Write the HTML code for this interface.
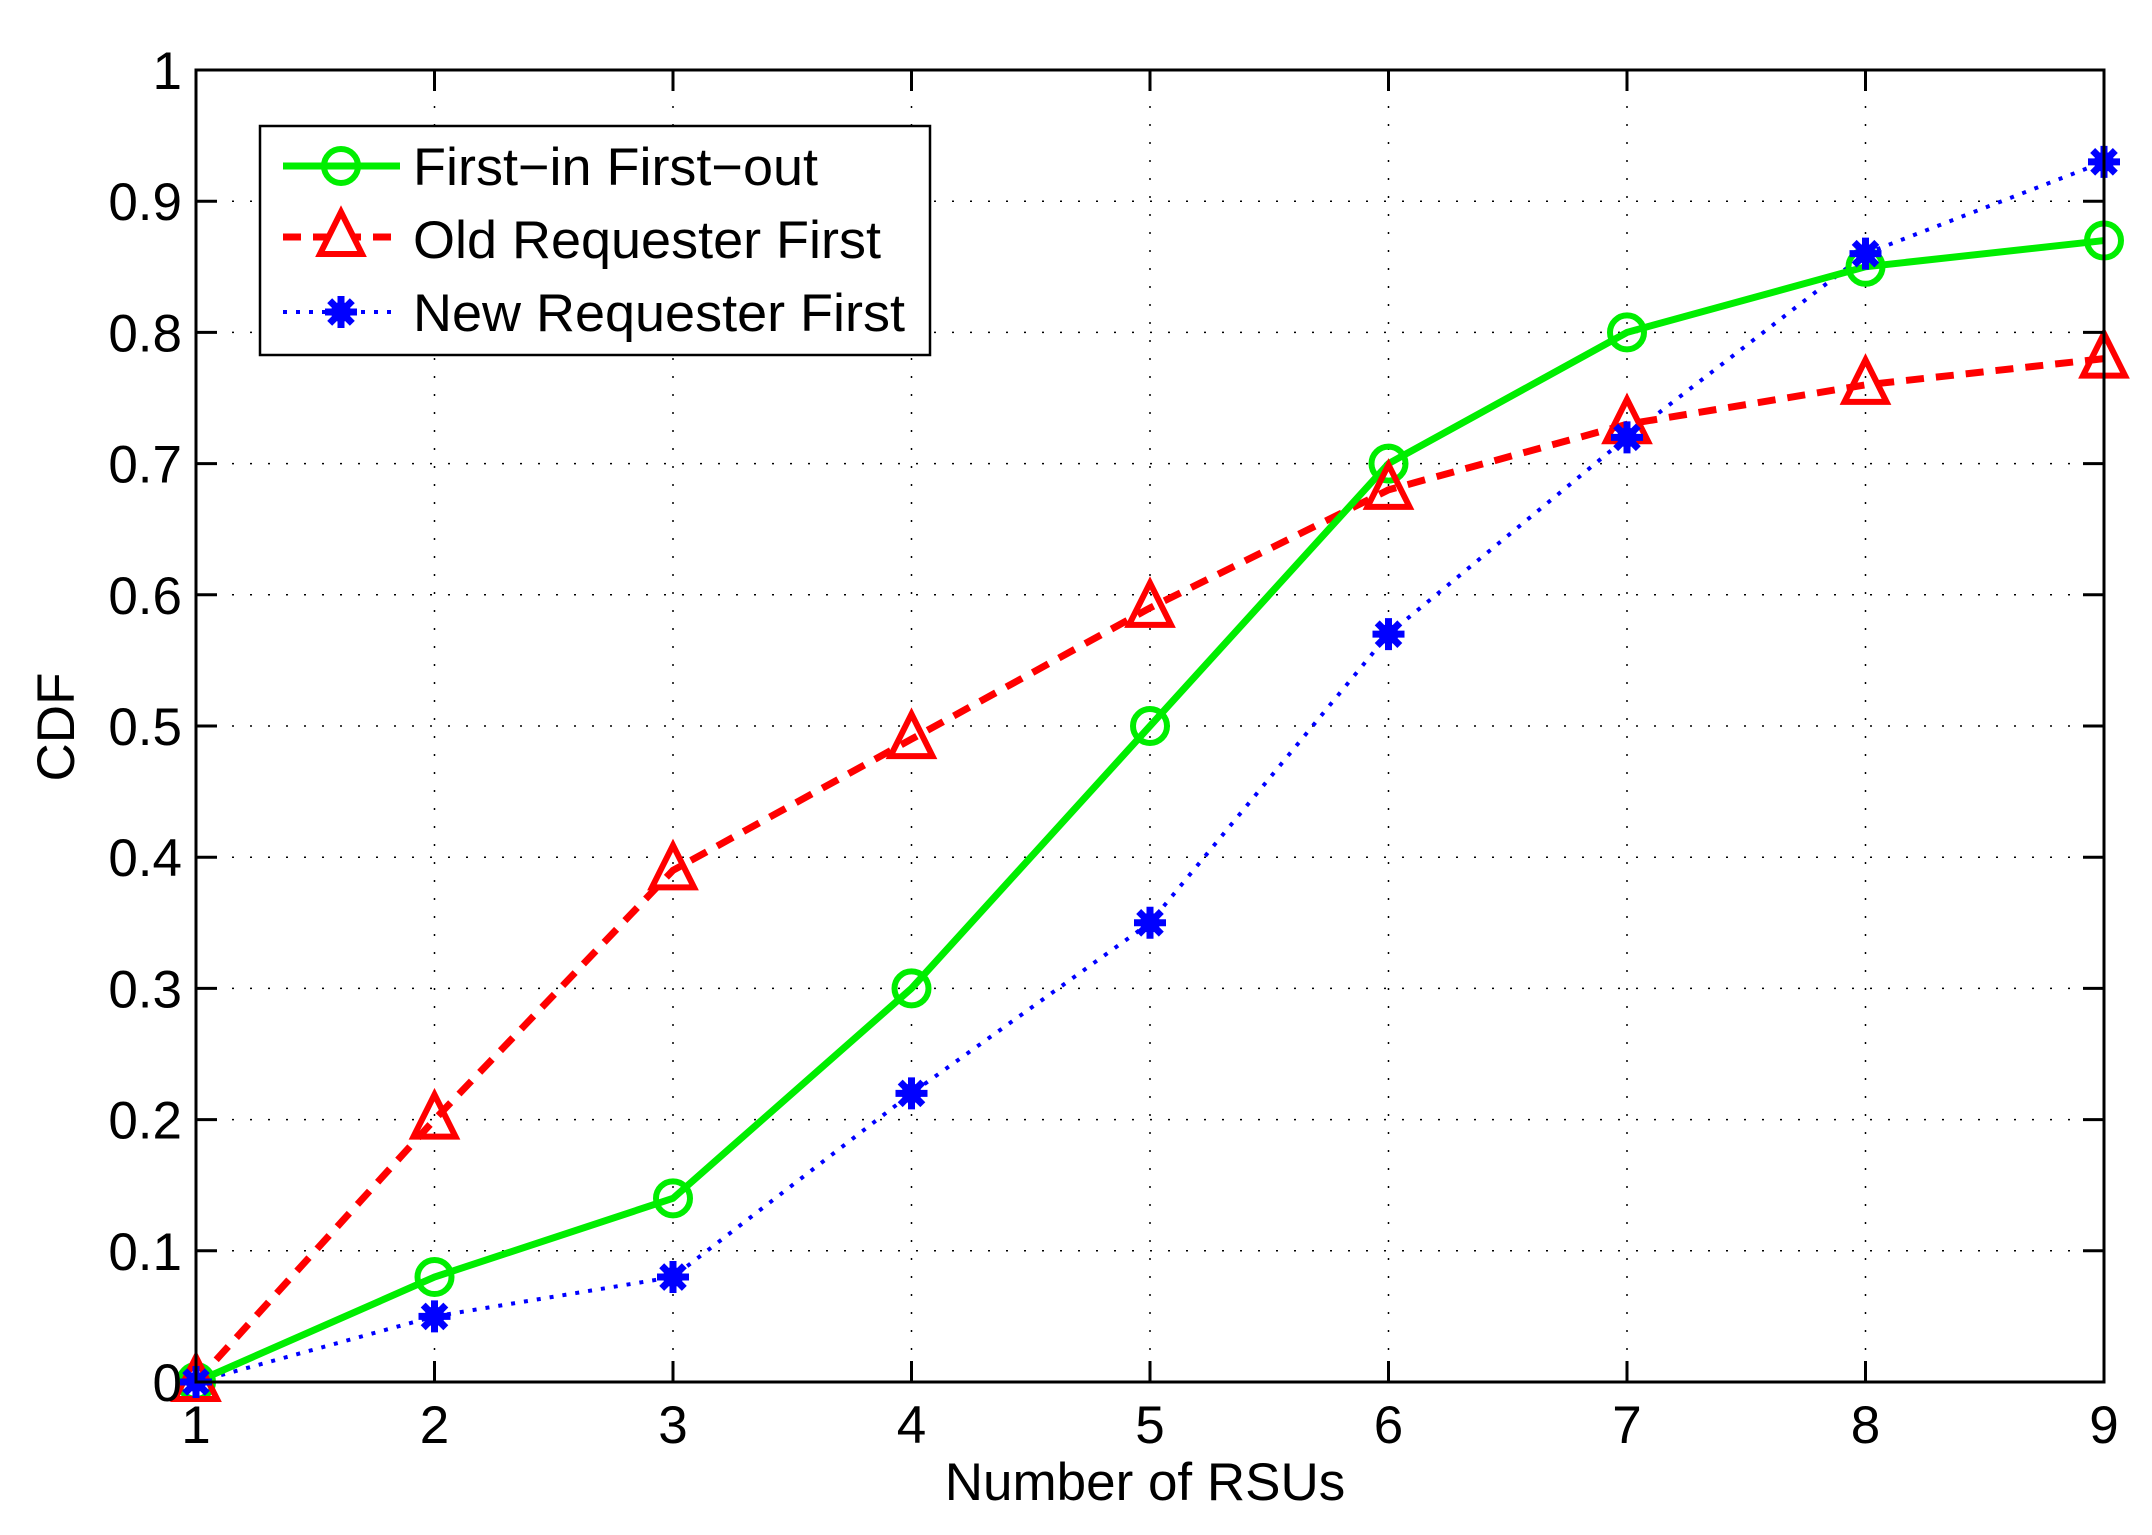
<!DOCTYPE html>
<html><head><meta charset="utf-8">
<style>
html,body{margin:0;padding:0;background:#fff;}
svg{display:block;}
text{font-family:"Liberation Sans",Arial,sans-serif;fill:#000;}
</style></head>
<body>
<svg id="s" width="2152" height="1535" viewBox="0 0 2152 1535" xmlns="http://www.w3.org/2000/svg">
<rect width="2152" height="1535" fill="#fff"/>
<g id="grid"></g>
<g id="series"></g>
<rect x="196" y="70" width="1908" height="1312" fill="none" stroke="#000" stroke-width="3"/>
<g id="ticks"></g>
<text x="1145" y="1500" font-size="53" text-anchor="middle">Number of RSUs</text>
<text x="0" y="0" font-size="53" text-anchor="middle" transform="translate(74,727) rotate(-90)">CDF</text>
<g id="legend">
<rect x="260" y="126" width="670" height="229" fill="#fff" stroke="#000" stroke-width="2.5"/>
<line x1="283" y1="166" x2="400" y2="166" stroke="#00ee00" stroke-width="7"/>
<circle cx="341" cy="166" r="17" fill="none" stroke="#00ee00" stroke-width="6"/>
<text x="413" y="185" font-size="53" textLength="405" lengthAdjust="spacingAndGlyphs">First−in First−out</text>
<line x1="283" y1="237" x2="400" y2="237" stroke="#ff0000" stroke-width="7" stroke-dasharray="18,12"/>
<polygon points="341,212 362,254 320,254" fill="#fff" stroke="#ff0000" stroke-width="6"/>
<text x="413" y="258" font-size="53" textLength="468" lengthAdjust="spacingAndGlyphs">Old Requester First</text>
<line x1="283" y1="312" x2="400" y2="312" stroke="#0000ff" stroke-width="4" stroke-dasharray="4,9"/>
<g id="legstar"></g>
<text x="413" y="331" font-size="53" textLength="492" lengthAdjust="spacingAndGlyphs">New Requester First</text>
</g>
</svg>
<script>
var L=196,R=2104,T=70,B=1382;
function X(v){return L+(v-1)*(R-L)/8;}
function Y(v){return B-v*(B-T);}
var ns="http://www.w3.org/2000/svg";
function el(p,t,a){var e=document.createElementNS(ns,t);for(var k in a)e.setAttribute(k,a[k]);p.appendChild(e);return e;}
var g=document.getElementById('grid'),tk=document.getElementById('ticks');
for(var i=1;i<=9;i++){var x=X(i);
 if(i>1&&i<9)el(g,'line',{x1:x,y1:T,x2:x,y2:B,stroke:'#000','stroke-width':1.5,'stroke-dasharray':'2,16'});
 el(tk,'line',{x1:x,y1:B,x2:x,y2:B-21,stroke:'#000','stroke-width':3});
 el(tk,'line',{x1:x,y1:T,x2:x,y2:T+21,stroke:'#000','stroke-width':3});
 var t=el(tk,'text',{x:x,y:1443,'font-size':53,'text-anchor':'middle'});t.textContent=i;}
for(var j=0;j<=10;j++){var v=j/10,y=Y(v);
 if(j>0&&j<10)el(g,'line',{x1:L,y1:y,x2:R,y2:y,stroke:'#000','stroke-width':1.5,'stroke-dasharray':'2,16'});
 el(tk,'line',{x1:L,y1:y,x2:L+21,y2:y,stroke:'#000','stroke-width':3});
 el(tk,'line',{x1:R,y1:y,x2:R-21,y2:y,stroke:'#000','stroke-width':3});
 var t=el(tk,'text',{x:182,y:y+19,'font-size':53,'text-anchor':'end'});t.textContent=(j==0?'0':(j==10?'1':v.toFixed(1)));}
var s=document.getElementById('series');
var F=[0,.08,.14,.30,.50,.70,.80,.85,.87],O=[0,.20,.39,.49,.59,.68,.73,.76,.78],N=[0,.05,.08,.22,.35,.57,.72,.86,.93];
function pts(d){return d.map(function(v,i){return X(i+1)+','+Y(v);}).join(' ');}
function star(p,cx,cy){var r=16;for(var a=0;a<4;a++){var an=a*Math.PI/4;el(p,'line',{x1:cx-r*Math.cos(an),y1:cy-r*Math.sin(an),x2:cx+r*Math.cos(an),y2:cy+r*Math.sin(an),stroke:'#0000ff','stroke-width':7});}
 el(p,'circle',{cx:cx,cy:cy,r:10,fill:'#0000ff'});}
el(s,'polyline',{points:pts(N),fill:'none',stroke:'#0000ff','stroke-width':4,'stroke-dasharray':'4,9'});
el(s,'polyline',{points:pts(O),fill:'none',stroke:'#ff0000','stroke-width':7,'stroke-dasharray':'18,12'});
el(s,'polyline',{points:pts(F),fill:'none',stroke:'#00ee00','stroke-width':7});
F.forEach(function(v,i){el(s,'circle',{cx:X(i+1),cy:Y(v),r:17,fill:'none',stroke:'#00ee00','stroke-width':6});});
O.forEach(function(v,i){var x=X(i+1),y=Y(v);el(s,'polygon',{points:x+','+(y-25)+' '+(x+21)+','+(y+17)+' '+(x-21)+','+(y+17),fill:'none',stroke:'#ff0000','stroke-width':6});});
N.forEach(function(v,i){star(s,X(i+1),Y(v));});
star(document.getElementById('legstar'),341,312);
</script>
</body></html>
